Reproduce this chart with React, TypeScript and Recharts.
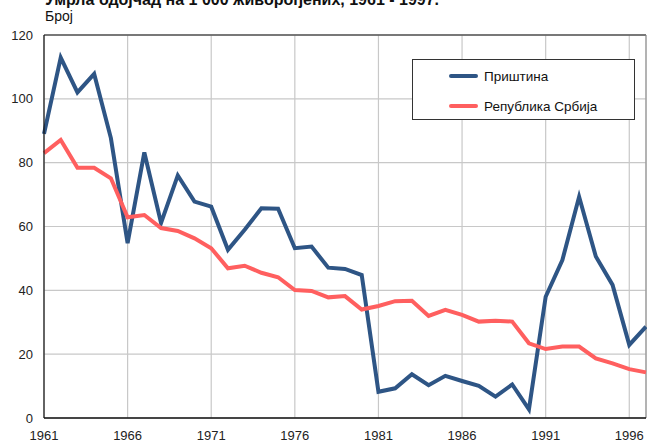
import { LineChart, Line, XAxis, YAxis, CartesianGrid, Legend, ReferenceLine } from "recharts";

const years = [
  1961, 1962, 1963, 1964, 1965, 1966, 1967, 1968, 1969, 1970, 1971, 1972, 1973,
  1974, 1975, 1976, 1977, 1978, 1979, 1980, 1981, 1982, 1983, 1984, 1985, 1986,
  1987, 1988, 1989, 1990, 1991, 1992, 1993, 1994, 1995, 1996, 1997,
];

// Приштина
const pristina = [
  89, 112.9, 102, 107.8, 87.7, 54.8, 83.2, 61.1, 76, 67.8, 66.2, 52.7, 59,
  65.7, 65.6, 53.2, 53.7, 47.1, 46.7, 44.8, 8.2, 9.3, 13.7, 10.3, 13.2, 11.6,
  10.1, 6.7, 10.5, 2.7, 38, 49.5, 69.3, 50.6, 41.7, 22.9, 28.6,
];

// Република Србија
const srbija = [
  83, 87.1, 78.4, 78.4, 75.1, 62.9, 63.6, 59.5, 58.6, 56.3, 53.2, 46.9, 47.7,
  45.5, 44.1, 40.1, 39.8, 37.8, 38.2, 34, 35.1, 36.6, 36.7, 32, 33.9, 32.3,
  30.2, 30.5, 30.2, 23.4, 21.6, 22.4, 22.4, 18.7, 17.1, 15.3, 14.3,
];

const xTicks = [1961, 1966, 1971, 1976, 1981, 1986, 1991, 1996];
const yTicks = [0, 20, 40, 60, 80, 100, 120];

const title = "Умрла одојчад на 1 000 живорођених, 1961 - 1997.";
const unitLabel = "Број";

const data = years.map((year, i) => ({
  year,
  pristina: pristina[i],
  srbija: srbija[i],
}));

const FONT = "'Liberation Sans', Arial, sans-serif";
const BLUE = "#2e5585";
const RED = "#ff5f5f";

function LegendBox({ payload }: { payload?: Array<{ value: string; color: string }> }) {
  return (
    <div
      style={{
        width: 223,
        height: 61,
        border: "1px solid #333",
        background: "#fff",
        boxSizing: "border-box",
        fontFamily: FONT,
        fontSize: 13.5,
        color: "#111",
        paddingTop: 1,
      }}
    >
      {(payload ?? []).map((p) => (
        <div
          key={p.value}
          style={{ display: "flex", alignItems: "center", height: 30 }}
        >
          <span
            style={{
              display: "inline-block",
              marginLeft: 36,
              width: 29,
              height: 4,
              borderRadius: 2,
              background: p.color,
            }}
          />
          <span style={{ marginLeft: 6 }}>{p.value}</span>
        </div>
      ))}
    </div>
  );
}

export default function App() {
  return (
    <div style={{ position: "absolute", left: 0, top: 0, width: 647, height: 443, overflow: "hidden", background: "#fff" }}>
      <LineChart
        width={647}
        height={443}
        data={data}
        margin={{ top: 35, right: 1, bottom: 0, left: 0 }}
      >
        <CartesianGrid stroke="#c8c8c8" strokeWidth={1.2} />
        <XAxis
          dataKey="year"
          type="number"
          domain={[1961, 1997]}
          ticks={xTicks}
          interval={0}
          height={25}
          tickLine={false}
          tickMargin={7}
          axisLine={{ stroke: "#111", strokeWidth: 1.5 }}
          tick={{ fill: "#222", fontSize: 13, fontFamily: FONT }}
        />
        <YAxis
          type="number"
          domain={[0, 120]}
          ticks={yTicks}
          interval={0}
          width={44}
          tickLine={false}
          tickMargin={5}
          axisLine={{ stroke: "#111", strokeWidth: 1.2 }}
          tick={{ fill: "#222", fontSize: 13, fontFamily: FONT }}
        />
        <ReferenceLine y={120} stroke="#555" strokeWidth={1.5} />
        <ReferenceLine x={1997} stroke="#888" strokeWidth={1} />
        <Line
          name="Приштина"
          dataKey="pristina"
          type="linear"
          stroke={BLUE}
          strokeWidth={4}
          dot={false}
          isAnimationActive={false}
        />
        <Line
          name="Република Србија"
          dataKey="srbija"
          type="linear"
          stroke={RED}
          strokeWidth={4}
          dot={false}
          isAnimationActive={false}
        />
        <Legend
          layout="vertical"
          align="center"
          verticalAlign="middle"
          wrapperStyle={{ left: 412, top: 59, width: 223, height: 61 }}
          content={(props: any) => <LegendBox payload={props.payload} />}
        />
      </LineChart>
      <svg
        width={647}
        height={40}
        style={{ position: "absolute", left: 0, top: 0, pointerEvents: "none" }}
      >
        <text x={45} y={5} fontFamily={FONT} fontSize={16} fontWeight="bold" fill="#111">
          {title}
        </text>
        <text x={45} y={21} fontFamily={FONT} fontSize={14} fill="#111">
          {unitLabel}
        </text>
      </svg>
    </div>
  );
}
